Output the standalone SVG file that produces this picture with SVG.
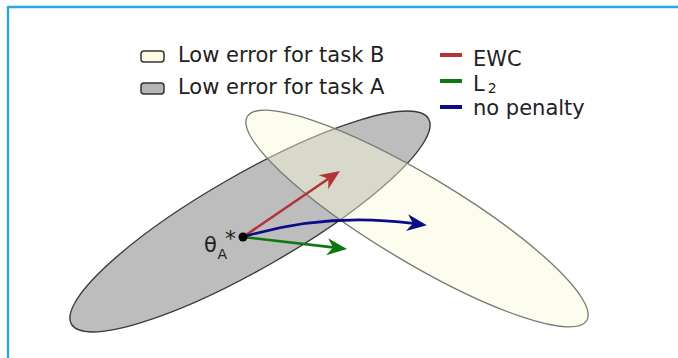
<svg xmlns="http://www.w3.org/2000/svg" width="678" height="358" viewBox="0 0 678 358">
  <style>
    .lbl { font-family: "DejaVu Sans", "Liberation Sans", sans-serif; fill: #222; }
    .leg { font-size: 21px; }
    .arrow { fill: none; stroke-width: 2.6; }
  </style>
  <defs>
    <marker id="hr" markerUnits="userSpaceOnUse" viewBox="-21 -9 22 18" markerWidth="22" markerHeight="18" refX="-14" refY="0" orient="auto">
      <path d="M0,0 L-20,-8.5 L-14,0 L-20,8.5 Z" fill="#b23434"/>
    </marker>
    <marker id="hg" markerUnits="userSpaceOnUse" viewBox="-21 -9 22 18" markerWidth="22" markerHeight="18" refX="-14" refY="0" orient="auto">
      <path d="M0,0 L-20,-8.5 L-14,0 L-20,8.5 Z" fill="#0f770f"/>
    </marker>
    <marker id="hb" markerUnits="userSpaceOnUse" viewBox="-21 -9 22 18" markerWidth="22" markerHeight="18" refX="-14" refY="0" orient="auto">
      <path d="M0,0 L-20,-8.5 L-14,0 L-20,8.5 Z" fill="#0c0c88"/>
    </marker>
  </defs>
  <rect width="678" height="358" fill="#ffffff"/>
  <g id="frame" stroke="#2aa9e0" stroke-width="2.4" fill="none">
    <line x1="8" y1="7" x2="678" y2="7"/>
    <line x1="8" y1="6" x2="8" y2="358"/>
  </g>
  <g id="region-A">
    <ellipse cx="250" cy="221.5" rx="206" ry="47" transform="rotate(-29.9 250 221.5)" fill="#bdbdbd" stroke="#3a3a3a" stroke-width="1.4"/>
  </g>
  <g id="region-B">
    <ellipse cx="417" cy="218.5" rx="198" ry="43" transform="rotate(31 417 218.5)" fill="#fafadc" fill-opacity="0.45" stroke="#7a7a72" stroke-width="1.3"/>
  </g>
  <g id="connectors">
    <path class="arrow" d="M243,237 L328.4,178.8" stroke="#b23434" marker-end="url(#hr)"/>
    <path class="arrow" d="M243,237 L333.1,247.4" stroke="#0f770f" marker-end="url(#hg)"/>
    <path class="arrow" d="M243,237 Q325,212 413,223.4" stroke="#0c0c88" marker-end="url(#hb)"/>
  </g>
  <g id="theta-A">
    <circle cx="243" cy="237" r="4.5" fill="#000"/>
    <text class="lbl" x="204" y="252" font-size="21">θ</text>
    <text class="lbl" x="217.5" y="259" font-size="14">A</text>
    <text class="lbl" x="225" y="246" font-size="22">*</text>
  </g>
  <g id="legend-B">
    <rect x="141" y="51" width="23" height="11" rx="3" fill="#fcfce6" stroke="#333" stroke-width="1.5"/>
    <text class="lbl leg" x="178" y="62">Low error for task B</text>
  </g>
  <g id="legend-A">
    <rect x="141" y="83" width="23" height="11" rx="3" fill="#b5b5b5" stroke="#333" stroke-width="1.5"/>
    <text class="lbl leg" x="178" y="94">Low error for task A</text>
  </g>
  <g id="legend-EWC">
    <line x1="440" y1="55" x2="462" y2="55" stroke="#b23434" stroke-width="4"/>
    <text class="lbl leg" x="473" y="66">EWC</text>
  </g>
  <g id="legend-L2">
    <line x1="440" y1="81" x2="462" y2="81" stroke="#0f770f" stroke-width="4"/>
    <text class="lbl leg" x="473" y="91">L<tspan font-size="14" dx="3" dy="2">2</tspan></text>
  </g>
  <g id="legend-nopenalty">
    <line x1="440" y1="107" x2="462" y2="107" stroke="#0c0c88" stroke-width="4"/>
    <text class="lbl leg" x="473" y="115">no penalty</text>
  </g>
</svg>
